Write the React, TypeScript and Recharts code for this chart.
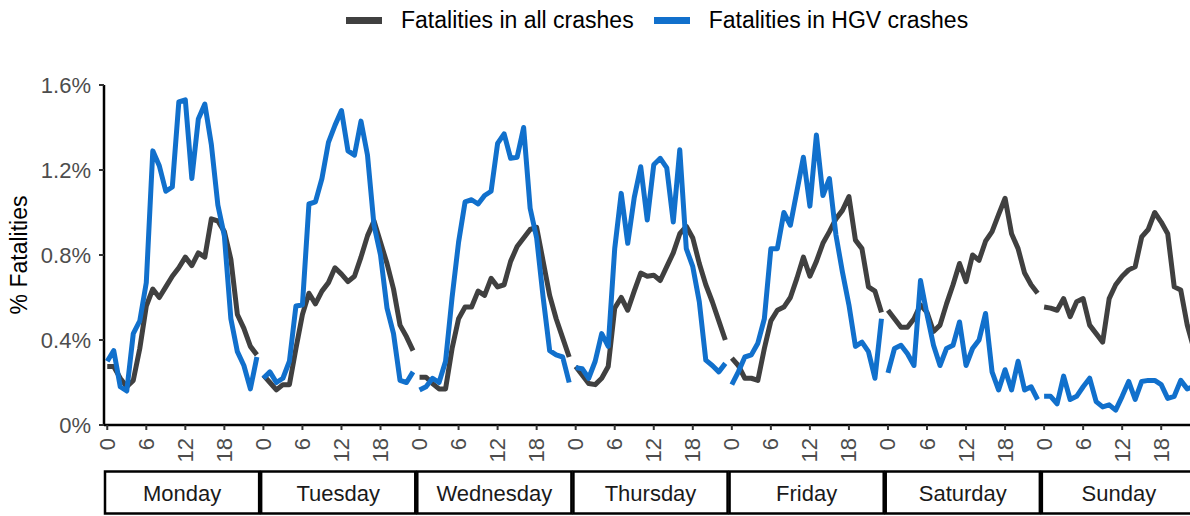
import { LineChart, Line, XAxis, YAxis, Legend, Label } from "recharts";

// hourly share of fatalities (%), hour 0..23 for each weekday
const days = ["Monday", "Tuesday", "Wednesday", "Thursday", "Friday", "Saturday", "Sunday"];

const allMon = [0.275, 0.275, 0.22, 0.18, 0.21, 0.36, 0.56, 0.64, 0.6, 0.65, 0.7, 0.74, 0.79, 0.75, 0.81, 0.79, 0.97, 0.96, 0.91, 0.78, 0.52, 0.455, 0.37, 0.33];
const allTue = [0.235, 0.2, 0.165, 0.19, 0.19, 0.36, 0.52, 0.62, 0.57, 0.63, 0.67, 0.74, 0.71, 0.675, 0.7, 0.79, 0.89, 0.96, 0.86, 0.76, 0.64, 0.47, 0.415, 0.35];
const allWed = [0.225, 0.225, 0.195, 0.17, 0.17, 0.36, 0.5, 0.555, 0.555, 0.63, 0.61, 0.69, 0.65, 0.66, 0.77, 0.84, 0.88, 0.92, 0.93, 0.77, 0.61, 0.5, 0.41, 0.32];
const allThu = [0.275, 0.235, 0.195, 0.19, 0.22, 0.275, 0.55, 0.6, 0.54, 0.63, 0.715, 0.7, 0.705, 0.68, 0.745, 0.81, 0.9, 0.935, 0.88, 0.76, 0.66, 0.58, 0.49, 0.4];
const allFri = [0.315, 0.28, 0.22, 0.22, 0.21, 0.36, 0.49, 0.54, 0.555, 0.6, 0.69, 0.79, 0.7, 0.77, 0.855, 0.91, 0.97, 1.01, 1.075, 0.87, 0.83, 0.65, 0.63, 0.53];
const allSat = [0.54, 0.5, 0.46, 0.46, 0.5, 0.565, 0.53, 0.44, 0.47, 0.57, 0.66, 0.76, 0.675, 0.8, 0.775, 0.865, 0.91, 0.99, 1.067, 0.9, 0.83, 0.715, 0.66, 0.62];
const allSun = [0.555, 0.55, 0.54, 0.595, 0.51, 0.58, 0.595, 0.47, 0.43, 0.39, 0.595, 0.66, 0.7, 0.73, 0.745, 0.885, 0.92, 1.0, 0.955, 0.9, 0.65, 0.635, 0.47, 0.36];

const hgvMon = [0.3, 0.35, 0.18, 0.16, 0.43, 0.49, 0.67, 1.29, 1.22, 1.1, 1.12, 1.52, 1.53, 1.16, 1.44, 1.51, 1.32, 1.035, 0.89, 0.5, 0.345, 0.28, 0.17, 0.32];
const hgvTue = [0.22, 0.25, 0.2, 0.22, 0.3, 0.56, 0.565, 1.04, 1.05, 1.16, 1.33, 1.41, 1.48, 1.29, 1.27, 1.43, 1.27, 0.94, 0.8, 0.55, 0.43, 0.21, 0.2, 0.25];
const hgvWed = [0.165, 0.18, 0.22, 0.2, 0.3, 0.6, 0.86, 1.05, 1.06, 1.04, 1.08, 1.1, 1.325, 1.37, 1.255, 1.26, 1.4, 1.02, 0.88, 0.6, 0.35, 0.33, 0.32, 0.2];
const hgvThu = [0.27, 0.265, 0.22, 0.3, 0.43, 0.37, 0.83, 1.09, 0.855, 1.07, 1.215, 0.965, 1.225, 1.255, 1.21, 0.955, 1.295, 0.83, 0.745, 0.58, 0.305, 0.28, 0.25, 0.29];
const hgvFri = [0.19, 0.25, 0.32, 0.33, 0.385, 0.5, 0.83, 0.83, 1.0, 0.94, 1.1, 1.26, 1.03, 1.365, 1.08, 1.16, 0.895, 0.72, 0.565, 0.37, 0.39, 0.345, 0.22, 0.5];
const hgvSat = [0.245, 0.36, 0.375, 0.335, 0.28, 0.68, 0.52, 0.375, 0.28, 0.36, 0.375, 0.485, 0.28, 0.36, 0.4, 0.525, 0.25, 0.165, 0.26, 0.165, 0.3, 0.165, 0.18, 0.12];
const hgvSun = [0.135, 0.135, 0.1, 0.23, 0.12, 0.135, 0.18, 0.22, 0.11, 0.085, 0.095, 0.07, 0.135, 0.205, 0.12, 0.205, 0.21, 0.21, 0.19, 0.125, 0.135, 0.21, 0.17, 0.18];

const allByDay = [allMon, allTue, allWed, allThu, allFri, allSat, allSun];
const hgvByDay = [hgvMon, hgvTue, hgvWed, hgvThu, hgvFri, hgvSat, hgvSun];

const hourTicks = [0, 6, 12, 18];
const yTicks = [0, 0.4, 0.8, 1.2, 1.6];

const BLACK = "#404040";
const BLUE = "#1170cc";
const FONT = "'Liberation Sans', Arial, sans-serif";

// one row per hour, with an empty row between days so each day is its own line
const data: { t: number; all: number | null; hgv: number | null }[] = [];
days.forEach((_, d) => {
  allByDay[d].forEach((v, h) => {
    data.push({ t: d * 24 + h, all: v, hgv: hgvByDay[d][h] });
  });
  if (d < days.length - 1) data.push({ t: d * 24 + 23.5, all: null, hgv: null });
});

const xTicks = days.flatMap((_, d) => hourTicks.map((h) => d * 24 + h));
const dayTicks = days.map((_, d) => d * 24 + 11.5);

const CHART_W = 1200;
const Y_W = 104;
const M_RIGHT = 3;
const DOMAIN: [number, number] = [-0.5, 167.5];
const dayPx = ((CHART_W - Y_W - M_RIGHT) / (DOMAIN[1] - DOMAIN[0])) * 24;

const HourTick = (props: any) => {
  const { x, y, payload } = props;
  return (
    <text
      x={x}
      y={y}
      transform={`rotate(-90 ${x} ${y})`}
      textAnchor="end"
      dominantBaseline="central"
      fill="#4d4d4d"
      fontSize={22}
      fontFamily={FONT}
    >
      {payload.value % 24}
    </text>
  );
};

const DayTick = (props: any) => {
  const { x, y, index } = props;
  const w = dayPx - 2;
  return (
    <g>
      <rect x={x - w / 2} y={y + 1.5} width={w} height={42} fill="#fff" stroke="#000" strokeWidth={2.5} />
      <text x={x} y={y + 23} textAnchor="middle" dominantBaseline="central" fontSize={22} fontFamily={FONT} fill="#1a1a1a">
        {days[index]}
      </text>
    </g>
  );
};

const legendItems = [
  { name: "Fatalities in all crashes", color: BLACK },
  { name: "Fatalities in HGV crashes", color: BLUE },
];

const LegendBox = () => (
  <div style={{ display: "flex", alignItems: "center", height: 40, paddingLeft: 346, fontFamily: FONT, fontSize: 23, color: "#000" }}>
    {legendItems.map((s) => (
      <span key={s.name} style={{ display: "inline-flex", alignItems: "center", marginRight: 20 }}>
        <span style={{ display: "inline-block", width: 36, height: 7, background: s.color, marginRight: 19 }} />
        {s.name}
      </span>
    ))}
  </div>
);

export default function App() {
  return (
    <div style={{ position: "absolute", left: 0, top: 0, width: 1190, height: 516, overflow: "hidden", background: "#fff" }}>
      <LineChart width={CHART_W} height={516} data={data} margin={{ top: 45, right: M_RIGHT, left: 0, bottom: 0 }}>
        <Legend verticalAlign="top" content={<LegendBox />} wrapperStyle={{ top: 0, left: 0, width: 1190 }} />
        <XAxis
          dataKey="t"
          type="number"
          domain={DOMAIN}
          ticks={xTicks}
          interval={0}
          height={45}
          tickSize={5}
          tickMargin={8}
          tick={<HourTick />}
          axisLine={{ stroke: "#000", strokeWidth: 2.5 }}
          tickLine={{ stroke: "#333", strokeWidth: 2 }}
        />
        <XAxis
          xAxisId="day"
          dataKey="t"
          type="number"
          domain={DOMAIN}
          ticks={dayTicks}
          interval={0}
          height={46}
          tickSize={0}
          tickMargin={0}
          axisLine={false}
          tickLine={false}
          tick={<DayTick />}
        />
        <YAxis
          domain={[0, 1.6]}
          ticks={yTicks}
          width={Y_W}
          tickSize={5}
          tickMargin={8}
          tickFormatter={(v: number) => `${v}%`}
          tick={{ fill: "#4d4d4d", fontSize: 22, fontFamily: FONT }}
          axisLine={{ stroke: "#000", strokeWidth: 2.5 }}
          tickLine={{ stroke: "#333", strokeWidth: 2 }}
        >
          <Label
            value="% Fatalities"
            angle={-90}
            position="center"
            dx={-33}
            style={{ fontSize: 23, fontFamily: FONT, fill: "#000", textAnchor: "middle" }}
          />
        </YAxis>
        <Line
          dataKey="all"
          name="Fatalities in all crashes"
          stroke={BLACK}
          strokeWidth={5}
          strokeLinejoin="round"
          dot={false}
          activeDot={false}
          connectNulls={false}
          isAnimationActive={false}
        />
        <Line
          dataKey="hgv"
          name="Fatalities in HGV crashes"
          stroke={BLUE}
          strokeWidth={5}
          strokeLinejoin="round"
          dot={false}
          activeDot={false}
          connectNulls={false}
          isAnimationActive={false}
        />
      </LineChart>
    </div>
  );
}
